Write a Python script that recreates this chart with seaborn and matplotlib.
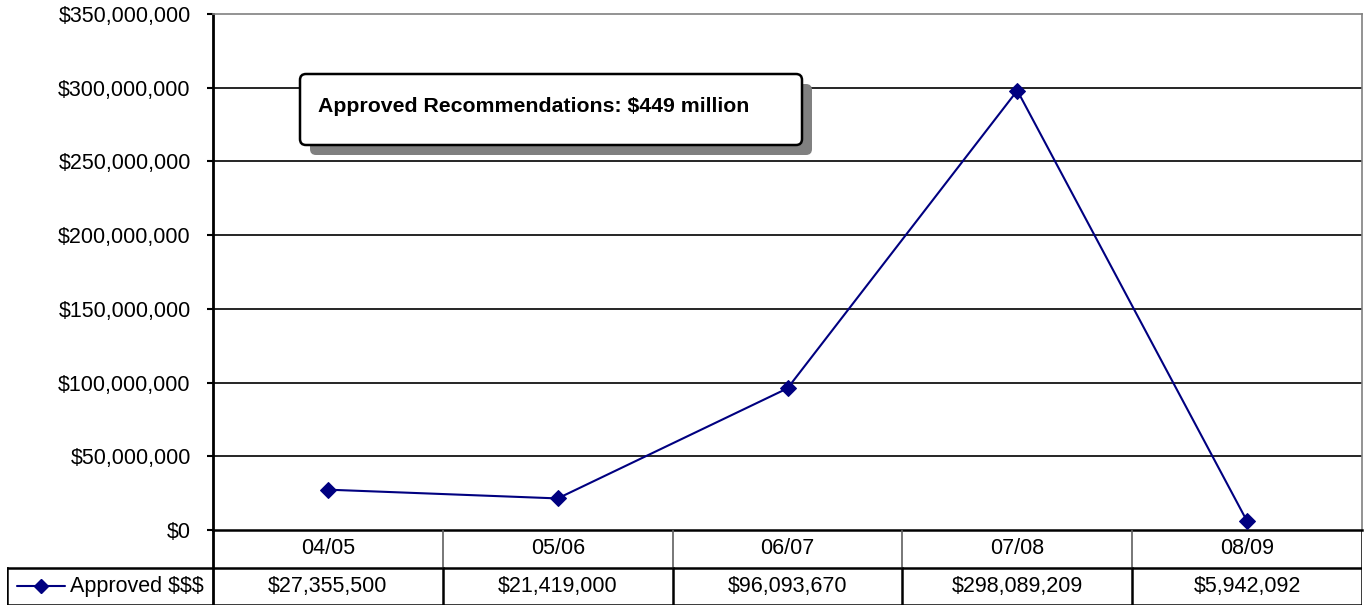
import matplotlib
matplotlib.use("Agg")
import matplotlib.pyplot as plt
import seaborn as sns
import pandas as pd
from matplotlib.patches import FancyBboxPatch
from matplotlib.lines import Line2D
from matplotlib.transforms import IdentityTransform

# ---- data ----
categories = ["04/05", "05/06", "06/07", "07/08", "08/09"]
approved = [27355500, 21419000, 96093670, 298089209, 5942092]
value_labels = ["$27,355,500", "$21,419,000", "$96,093,670", "$298,089,209", "$5,942,092"]
yticks = [0, 50e6, 100e6, 150e6, 200e6, 250e6, 300e6, 350e6]
ytick_labels = ["$0", "$50,000,000", "$100,000,000", "$150,000,000", "$200,000,000",
                "$250,000,000", "$300,000,000", "$350,000,000"]
series_name = "Approved $$$"
annotation = "Approved Recommendations: $449 million"

sns.set_style("white")
plt.rcParams["font.family"] = ["Liberation Sans", "DejaVu Sans"]
plt.rcParams["text.color"] = "black"
plt.rcParams["ytick.color"] = "black"
plt.rcParams["ytick.labelcolor"] = "black"

W, H = 1369, 609
fig = plt.figure(figsize=(W / 100, H / 100), dpi=100)
fig.patch.set_facecolor("white")


def px(l, t, r, b):
    return [l / W, 1 - b / H, (r - l) / W, (b - t) / H]


NAVY = "#000080"
FS = 15.5

ax = fig.add_axes(px(213, 14, 1362, 530))
df = pd.DataFrame({"x": list(range(len(categories))), "y": approved})
sns.lineplot(data=df, x="x", y="y", ax=ax, color=NAVY, marker="D", markersize=8,
             markeredgecolor=NAVY, linewidth=1.5, zorder=5)
ax.set_xlim(-0.5, len(categories) - 0.5)
ax.set_ylim(0, 350e6)
ax.set_yticks(yticks)
ax.set_yticklabels(ytick_labels, color="black")
ax.set_xticks([])
ax.set_xlabel("")
ax.set_ylabel("")
for y in yticks[1:-1]:
    ax.axhline(y, color="black", lw=1.2, zorder=1)
ax.spines["left"].set_color("black")
ax.spines["left"].set_linewidth(2)
ax.spines["bottom"].set_color("black")
ax.spines["bottom"].set_linewidth(1.8)
ax.spines["top"].set_color("#808080")
ax.spines["top"].set_linewidth(1.2)
ax.spines["right"].set_color("#808080")
ax.spines["right"].set_linewidth(1.2)
ax.tick_params(axis="y", left=True, length=4, width=1.5, color="black",
               labelsize=FS, pad=12, labelcolor="black")

# ---- annotation box with shadow (display pixels) ----
bl, bt, br, bb = 300, 74, 802, 145
shadow = FancyBboxPatch((bl + 10, H - bb - 10), br - bl, bb - bt,
                        boxstyle="round,pad=0,rounding_size=6",
                        transform=IdentityTransform(), facecolor="#808080",
                        edgecolor="none", zorder=10)
box = FancyBboxPatch((bl, H - bb), br - bl, bb - bt,
                     boxstyle="round,pad=0,rounding_size=6",
                     transform=IdentityTransform(), facecolor="white",
                     edgecolor="black", linewidth=1.8, zorder=11)
fig.add_artist(shadow)
fig.add_artist(box)
fig.text(318 / W, 1 - 106 / H, annotation, fontsize=15.3, fontweight="bold",
         ha="left", va="center", color="black", zorder=12)

# ---- data table ----
cw = 1149 / len(categories)
left_extra = (213 - 7) / cw
tax = fig.add_axes(px(7, 530, 1362, 605))
xmin = -0.5 - left_extra
xmax = len(categories) - 0.5
tax.set_xlim(xmin, xmax)
tax.set_ylim(0, 2)
tax.axis("off")
kw = dict(color="black", lw=1.8, solid_capstyle="projecting")
tax.plot([xmin, xmax], [1, 1], **kw)
tax.plot([xmin, xmax], [0, 0], **kw)
tax.plot([xmin, xmin], [0, 1], **kw)
tax.plot([-0.5, -0.5], [0, 2], color="black", lw=2)
tax.plot([xmax, xmax], [0, 2], **kw)
for i in range(len(categories) - 1):
    tax.plot([i + 0.5, i + 0.5], [1, 2], color="#606060", lw=1.2)
    tax.plot([i + 0.5, i + 0.5], [0, 1], **kw)
for i, (c, v) in enumerate(zip(categories, value_labels)):
    tax.text(i, 1.5, c, ha="center", va="center", fontsize=FS, color="black")
    tax.text(i, 0.5, v, ha="center", va="center", fontsize=FS, color="black")
# legend key
lx0 = xmin + 10 / cw
lx1 = xmin + 58 / cw
tax.add_line(Line2D([lx0, lx1], [0.5, 0.5], color=NAVY, lw=1.5))
tax.plot([(lx0 + lx1) / 2], [0.5], marker="D", color=NAVY, markersize=7)
tax.text(xmin + 63 / cw, 0.5, series_name, ha="left", va="center", fontsize=FS,
         color="black")

fig.savefig("out.png", dpi=100)
